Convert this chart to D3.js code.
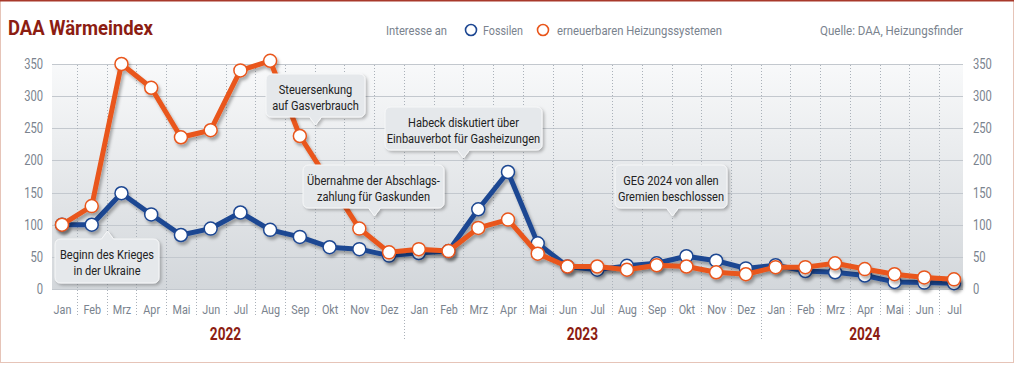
<!DOCTYPE html>
<html>
<head>
<meta charset="utf-8">
<script src="https://cdn.jsdelivr.net/npm/d3@7"></script>
<style>
  body { margin: 0; background: #fff; }
  svg { display: block; font-family: Roboto, "Liberation Sans", sans-serif; }
</style>
</head>
<body>
<script>
// month + year labels
var months = ["Jan","Feb","Mrz","Apr","Mai","Jun","Jul","Aug","Sep","Okt","Nov","Dez",
              "Jan","Feb","Mrz","Apr","Mai","Jun","Jul","Aug","Sep","Okt","Nov","Dez",
              "Jan","Feb","Mrz","Apr","Mai","Jun","Jul"];
var years = ["2022","2023","2024"];
var yearCenters = [5.5, 17.5, 27];
var yTicks = [0,50,100,150,200,250,300,350];

// index values (Jan 2022 = 100)
var fossil    = [100,100,149,116,84,94,119,92,81,65,62,52,56,59,124,182,71,35,30,36,40,51,44,32,37,28,26,21,11,10,9];
var renewable = [100,129,350,313,236,247,340,355,238,166,94,57,62,59,95,108,55,35,35,30,37,35,26,23,34,34,40,31,23,18,15];

// callouts: text + month position the pointer sits on
var notes = [
  {lines: ["Beginn des Krieges","in der Ukraine"], at: 1.5, box: [55,239,104,44], dir: "up"},
  {lines: ["Steuersenkung","auf Gasverbrauch"], at: 8.5, box: [266,74,99,43], dir: "down"},
  {lines: ["Habeck diskutiert über","Einbauverbot für Gasheizungen"], at: 13.5, box: [385,107,157,43], dir: "down"},
  {lines: ["Übernahme der Abschlags-","zahlung für Gaskunden"], at: 10.5, box: [303,165,141,43], dir: "down"},
  {lines: ["GEG 2024 von allen","Gremien beschlossen"], at: 20.5, box: [615,165,112,43], dir: "down"}
];

var W = 1016, H = 365;
var blue = "#1d4792", orange = "#e9561b", red = "#8c1d12", grey = "#7a838e";

// squeeze text horizontally around its anchor (no condensed fonts available)
function condense(sel, sx) {
  sel.each(function() {
    var tx = +this.getAttribute("x") || 0, ty = +this.getAttribute("y") || 0;
    this.setAttribute("transform", "translate(" + tx + "," + ty + ") scale(" + sx + ",1) translate(" + (-tx) + "," + (-ty) + ")");
  });
}

var svg = d3.select("body").append("svg").attr("width", W).attr("height", H);
var defs = svg.append("defs");

var grad = defs.append("linearGradient").attr("id", "bg").attr("x1", 0).attr("y1", 0).attr("x2", 0).attr("y2", 1);
grad.append("stop").attr("offset", "0%").attr("stop-color", "#f8f9fa");
grad.append("stop").attr("offset", "100%").attr("stop-color", "#d3d7db");

var shadow = defs.append("filter").attr("id", "shadow").attr("x", "-20%").attr("y", "-20%").attr("width", "140%").attr("height", "160%");
shadow.append("feDropShadow").attr("dx", 2).attr("dy", 3).attr("stdDeviation", 1.6).attr("flood-color", "#000").attr("flood-opacity", 0.3);

var boxShadow = defs.append("filter").attr("id", "boxshadow").attr("x", "-10%").attr("y", "-20%").attr("width", "125%").attr("height", "160%");
boxShadow.append("feDropShadow").attr("dx", 2).attr("dy", 2).attr("stdDeviation", 1.5).attr("flood-color", "#000").attr("flood-opacity", 0.25);

// frame
svg.append("rect").attr("x", 0.5).attr("y", 0.5).attr("width", 1013).attr("height", 362)
  .attr("fill", "none").attr("stroke", "#e6c4b8");
svg.append("rect").attr("x", 0).attr("y", 0).attr("width", 1014).attr("height", 1.5).attr("fill", "#a8392b");

//scales
var pLeft = 52, pRight = 963, pTop = 64, pBottom = 289;
var x = d3.scaleLinear().domain([0, months.length - 1]).range([62, 954]);
var y = d3.scaleLinear().domain([0, 350]).range([pBottom, pTop]);

// background
svg.append("rect").attr("x", pLeft).attr("y", pTop).attr("width", pRight - pLeft).attr("height", pBottom - pTop)
  .attr("fill", "url(#bg)");

// horizontal grid
svg.append("g").selectAll("line").data(yTicks).enter().append("line")
  .attr("x1", pLeft).attr("x2", pRight)
  .attr("y1", function(d) { return Math.round(y(d)) + 0.5; }).attr("y2", function(d) { return Math.round(y(d)) + 0.5; })
  .attr("stroke", "#c3c8ce").attr("stroke-width", 1);

// vertical dotted lines between months
var mids = d3.range(0, months.length - 1).map(function(i) { return i + 0.5; });
svg.append("g").selectAll("line").data(mids).enter().append("line")
  .attr("x1", function(d) { return Math.round(x(d)) + 0.5; })
  .attr("x2", function(d) { return Math.round(x(d)) + 0.5; })
  .attr("y1", pTop + 1)
  .attr("y2", function(d) { return (d === 11.5 || d === 23.5) ? 341 : 316; })
  .attr("stroke", "#aab1b9").attr("stroke-width", 1).attr("stroke-dasharray", "1,2");

// axes
var yAxisL = d3.axisLeft(y).tickValues(yTicks).tickSize(0).tickPadding(9);
var yAxisR = d3.axisRight(y).tickValues(yTicks).tickSize(0).tickPadding(10);
var gl = svg.append("g").attr("transform", "translate(" + pLeft + ",0)").call(yAxisL);
var gr = svg.append("g").attr("transform", "translate(" + pRight + ",0)").call(yAxisR);
[gl, gr].forEach(function(g) {
  g.select(".domain").remove();
  g.selectAll("text").attr("fill", grey).style("font-size", "14px")
    .style("font-family", "Roboto, sans-serif").call(condense, 0.8);
});

var xAxis = d3.axisBottom(x).tickValues(d3.range(months.length))
  .tickFormat(function(i) { return months[i]; }).tickSize(0).tickPadding(15);
var gx = svg.append("g").attr("transform", "translate(0," + pBottom + ")").call(xAxis);
gx.select(".domain").remove();
gx.selectAll("text").attr("fill", grey).style("font-size", "13.5px")
  .style("font-family", "Roboto, sans-serif").call(condense, 0.8);

svg.append("g").selectAll("text").data(years).enter().append("text")
  .attr("x", function(d, i) { return x(yearCenters[i]); }).attr("y", 340)
  .attr("text-anchor", "middle").attr("fill", red)
  .style("font-size", "17.5px").style("font-weight", "bold")
  .text(function(d) { return d; })
  .call(condense, 0.78);

// series
var line = d3.line().x(function(d, i) { return x(i); }).y(function(d) { return y(d); });
function drawSeries(data, color) {
  var g = svg.append("g").attr("filter", "url(#shadow)");
  g.append("path").datum(data).attr("d", line)
    .attr("fill", "none").attr("stroke", color).attr("stroke-width", 5).attr("stroke-linejoin", "round");
  g.selectAll("circle").data(data).enter().append("circle")
    .attr("cx", function(d, i) { return x(i); }).attr("cy", function(d) { return y(d); })
    .attr("r", 6.5).attr("fill", "#fff").attr("stroke", color).attr("stroke-width", 1.5);
}
drawSeries(fossil, blue);
drawSeries(renewable, orange);

// callouts
notes.forEach(function(n) {
  var bx = n.box[0], by = n.box[1], bw = n.box[2], bh = n.box[3];
  var px = Math.round(x(n.at)) + 0.5;
  var g = svg.append("g");
  var r = 6, s = 6;
  var p;
  if (n.dir === "down") {
    p = "M" + (bx + r) + "," + by + " H" + (bx + bw - r) + " Q" + (bx + bw) + "," + by + " " + (bx + bw) + "," + (by + r) +
        " V" + (by + bh - r) + " Q" + (bx + bw) + "," + (by + bh) + " " + (bx + bw - r) + "," + (by + bh) +
        " H" + (px + s) + " L" + px + "," + (by + bh + 8) + " L" + (px - s) + "," + (by + bh) +
        " H" + (bx + r) + " Q" + bx + "," + (by + bh) + " " + bx + "," + (by + bh - r) +
        " V" + (by + r) + " Q" + bx + "," + by + " " + (bx + r) + "," + by + " Z";
  } else {
    p = "M" + (bx + r) + "," + by + " H" + (px - s) + " L" + px + "," + (by - 8) + " L" + (px + s) + "," + by +
        " H" + (bx + bw - r) + " Q" + (bx + bw) + "," + by + " " + (bx + bw) + "," + (by + r) +
        " V" + (by + bh - r) + " Q" + (bx + bw) + "," + (by + bh) + " " + (bx + bw - r) + "," + (by + bh) +
        " H" + (bx + r) + " Q" + bx + "," + (by + bh) + " " + bx + "," + (by + bh - r) +
        " V" + (by + r) + " Q" + bx + "," + by + " " + (bx + r) + "," + by + " Z";
  }
  g.append("path").attr("d", p).attr("fill", "#e5e8eb").attr("stroke", "#f7f8f9").attr("stroke-width", 1)
    .attr("filter", "url(#boxshadow)");
  n.lines.forEach(function(t, k) {
    g.append("text").attr("x", bx + bw / 2).attr("y", by + 20 + k * 16)
      .attr("text-anchor", "middle").attr("fill", "#222").style("font-size", "13.5px").text(t)
      .call(condense, 0.82);
  });
});

// title + legend
svg.append("text").attr("x", 8).attr("y", 35).attr("fill", red)
  .style("font-size", "21px").style("font-weight", "bold")
  .attr("textLength", 145).attr("lengthAdjust", "spacingAndGlyphs").text("DAA Wärmeindex");

var leg = svg.append("g").style("font-size", "13px").attr("fill", grey);
function legText(xp, w, t, anchor) {
  return leg.append("text").attr("x", xp).attr("y", 35).attr("text-anchor", anchor || "start")
    .attr("textLength", w).attr("lengthAdjust", "spacingAndGlyphs").text(t);
}
legText(386, 61, "Interesse an");
leg.append("circle").attr("cx", 471).attr("cy", 30).attr("r", 5.5).attr("fill", "none").attr("stroke", blue).attr("stroke-width", 1.6);
legText(483, 40, "Fossilen");
leg.append("circle").attr("cx", 543).attr("cy", 30).attr("r", 5.5).attr("fill", "none").attr("stroke", orange).attr("stroke-width", 1.6);
legText(557, 165, "erneuerbaren Heizungssystemen");
legText(820, 143, "Quelle: DAA, Heizungsfinder");
</script>
</body>
</html>
